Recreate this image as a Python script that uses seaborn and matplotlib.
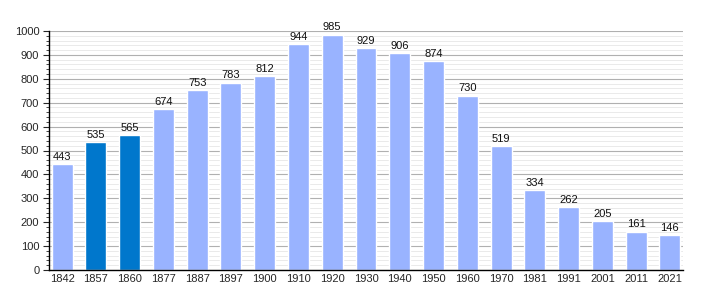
import matplotlib
matplotlib.use("Agg")
import matplotlib.pyplot as plt
import seaborn as sns
import numpy as np
from matplotlib.ticker import MultipleLocator

years = ["1842", "1857", "1860", "1877", "1887", "1897", "1900", "1910", "1920", "1930",
         "1940", "1950", "1960", "1970", "1981", "1991", "2001", "2011", "2021"]
population = [443, 535, 565, 674, 753, 783, 812, 944, 985, 929,
              906, 874, 730, 519, 334, 262, 205, 161, 146]
highlight = ["1857", "1860"]

light = "#99b3ff"
dark = "#0077cc"
colors = [dark if y in highlight else light for y in years]

sns.set_style("white")
plt.rcParams['font.family'] = ['Liberation Sans', 'DejaVu Sans']

fig = plt.figure(figsize=(7.1, 3.0), dpi=100)
ax = fig.add_axes([49/710, 30/300, (683-49)/710, (270-31)/300])

# grid
for v in range(0, 1001, 20):
    if v % 100 == 0:
        ax.axhline(v, color="#b0b0b0", lw=0.8, zorder=0)
    else:
        ax.axhline(v, color="#e6e6e6", lw=0.6, zorder=0)

sns.barplot(x=years, y=population, hue=years, palette=colors, legend=False,
            width=0.62, ax=ax, saturation=1, zorder=2)

for i, v in enumerate(population):
    ax.text(i, v + 10, str(v), ha="center", va="bottom", fontsize=8, color="#111111")

ax.set_ylim(0, 1000)
ax.set_xlim(-0.39, 18.39)
ax.yaxis.set_major_locator(MultipleLocator(100))
ax.yaxis.set_minor_locator(MultipleLocator(20))
ax.tick_params(axis="y", which="major", length=4, width=0.8, labelsize=8, pad=3, left=True)
ax.tick_params(axis="y", which="minor", length=2, width=0.6, left=True)
ax.tick_params(axis="x", length=0, labelsize=8, pad=3)
ax.set_xlabel("")
ax.set_ylabel("")
for s in ["top", "right"]:
    ax.spines[s].set_visible(False)
ax.spines["left"].set_color("black")
ax.spines["bottom"].set_color("black")
ax.spines["left"].set_linewidth(1)
ax.spines["bottom"].set_linewidth(1)

fig.savefig("out.png", dpi=100)
